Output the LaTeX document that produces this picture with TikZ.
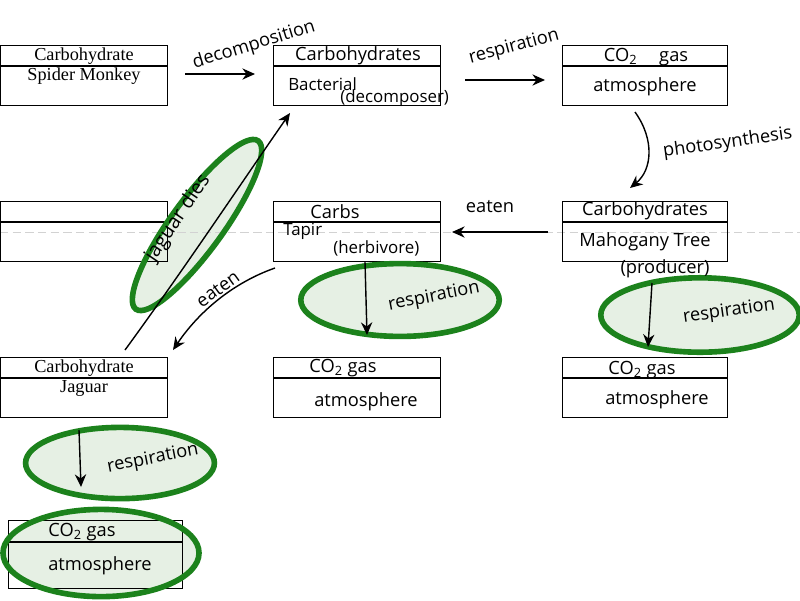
\documentclass[tikz,border=0pt]{standalone}
\usepackage{fontspec}
\setmainfont{Liberation Serif}
\newfontfamily\hand{Open Sans}
\usetikzlibrary{arrows.meta,calc}
\definecolor{ringgreen}{RGB}{28,130,28}
\definecolor{ringfill}{RGB}{230,240,228}
\tikzset{
 box/.style={draw, line width=0.9pt, rectangle, anchor=north west, minimum width=4.175cm, minimum height=1.5cm, inner sep=0},
 ringfillst/.style={fill=ringfill},
 ringline/.style={draw=ringgreen, line width=4pt},
 arr/.style={-{Stealth[length=9pt,width=8pt]}, line width=1pt},
 hw/.style={font=\hand\fontsize{13}{15}\selectfont, inner sep=0},
 hws/.style={font=\hand\fontsize{12}{14}\selectfont, inner sep=0},
 pr/.style={font=\fontsize{13}{15}\selectfont, inner sep=0},
 scan/.style={gray!35, dash pattern=on 6pt off 3pt, line width=0.6pt},
}
\begin{document}
\begin{tikzpicture}[x=0.025cm,y=-0.025cm]
\useasboundingbox (0,0) rectangle (800,600);
% ellipse fills
\fill[ringfillst, shift={(197,225)}, rotate=54] (0,0) ellipse [x radius=2.6cm, y radius=0.65cm];
\fill[ringfillst] (400,300) ellipse [x radius=2.48cm, y radius=0.91cm];
\fill[ringfillst] (700,315) ellipse [x radius=2.48cm, y radius=0.93cm];
\fill[ringfillst] (120,463) ellipse [x radius=2.36cm, y radius=0.89cm];
\fill[ringfillst] (101,553) ellipse [x radius=2.45cm, y radius=1.09cm];
% scan line
\draw[scan] (0,232) -- (800,232);
% boxes
\node[box] (sm) at (0,45) {};
\node[box] (ba) at (273,45) {};
\node[box, minimum width=4.125cm] (co1) at (562,45) {};
\node[box] (em) at (0,201) {};
\node[box] (ta) at (273,201) {};
\node[box, minimum width=4.125cm] (ma) at (562,201) {};
\node[box] (ja) at (0,357) {};
\node[box] (co2) at (273,357) {};
\node[box, minimum width=4.125cm] (co3) at (562,357) {};
\node[box, minimum width=4.35cm, minimum height=1.7cm] (co4) at (8,520) {};
\foreach \b in {sm,ba,co1,em,ta,ma,ja,co2,co3}
  \draw[line width=0.9pt] ($(\b.north west)+(0,21)$) -- ($(\b.north east)+(0,21)$);
\draw[line width=0.9pt] ($(co4.north west)+(0,22)$) -- ($(co4.north east)+(0,22)$);
% ellipse outlines
\draw[ringline, shift={(197,225)}, rotate=54] (0,0) ellipse [x radius=2.6cm, y radius=0.65cm];
\draw[ringline] (400,300) ellipse [x radius=2.48cm, y radius=0.91cm];
\draw[ringline] (700,315) ellipse [x radius=2.48cm, y radius=0.93cm];
\draw[ringline] (120,463) ellipse [x radius=2.36cm, y radius=0.89cm];
\draw[ringline] (101,553) ellipse [x radius=2.45cm, y radius=1.09cm];
% box texts
\node[pr] (t1a) at (84,56) {Carbohydrate};
\node[pr] (t1b) at (84,76) {Spider Monkey};
\node[hw] (t2a) at (358,56) {Carbohydrates};
\node[hws, anchor=west] (t2b) at (288,84) {Bacterial};
\node[hws, anchor=west] (t2c) at (340,98) {(decomposer)};
\node[hw] (t3a) at (646,57) {CO\textsubscript{2}\hspace{1.2em}gas};
\node[hw] (t3b) at (645,87) {atmosphere};
\node[hw] (t5a) at (335,212) {Carbs};
\node[hws, anchor=west] (t5b) at (283,231) {Tapir};
\node[hws, anchor=west] (t5c) at (333,248) {(herbivore)};
\node[hw] (t6a) at (645,211) {Carbohydrates};
\node[hw] (t6b) at (645,242) {Mahogany Tree};
\node[hw] (t6c) at (665,269) {(producer)};
\node[pr] (t7a) at (84,368) {Carbohydrate};
\node[pr] (t7b) at (84,388) {Jaguar};
\node[hw] (t8a) at (343,368) {CO\textsubscript{2} gas};
\node[hw] (t8b) at (366,402) {atmosphere};
\node[hw] (t9a) at (642,370) {CO\textsubscript{2} gas};
\node[hw] (t9b) at (657,400) {atmosphere};
\node[hw] (t10a) at (82,532) {CO\textsubscript{2} gas};
\node[hw] (t10b) at (100,566) {atmosphere};
% connector end points
\coordinate (d1) at (185,74);
\coordinate (d2) at (255,74);
\coordinate (r1) at (465,80);
\coordinate (r2) at (545,80);
\coordinate (p1) at (635,112);
\coordinate (p2) at (630,188);
\coordinate (e1) at (548,232);
\coordinate (e2) at (452,232);
\coordinate (e3) at (275,268);
\coordinate (e4) at (173,350);
\coordinate (j1) at (125,350);
\coordinate (j2) at (290,113);
\coordinate (tr1) at (365,262);
\coordinate (tr2) at (367,335);
\coordinate (mr1) at (652,283);
\coordinate (mr2) at (648,347);
\coordinate (jr1) at (79,430);
\coordinate (jr2) at (81,487);
% connectors
\draw[arr] (d1) -- (d2);
\draw[arr] (r1) -- (r2);
\draw[arr] (p1) .. controls (655,140) and (652,170) .. (p2);
\draw[arr] (e1) -- (e2);
\draw[arr] (e3) .. controls (235,282) and (200,310) .. (e4);
\draw[arr] (j1) .. controls (182,272) and (242,182) .. (j2);
\draw[arr] (tr1) -- (tr2);
\draw[arr] (mr1) -- (mr2);
\draw[arr] (jr1) -- (jr2);
% labels
\node[hw, rotate=17] (l1) at (254,45) {decomposition};
\node[hw, rotate=15] (l2) at (514,47) {respiration};
\node[hw, rotate=8, anchor=west] (l3) at (663,152) {photosynthesis};
\node[hw] (l4) at (490,207) {eaten};
\node[hw, rotate=36] (l5) at (218,289) {eaten};
\node[hw, rotate=56, font=\hand\fontsize{14}{16}\selectfont] (l6) at (178,218) {jaguar dies};
\node[hw, rotate=11] (l7) at (434,297) {respiration};
\node[hw, rotate=8, anchor=west] (l8) at (683,318) {respiration};
\node[hw, rotate=11] (l9) at (153,459) {respiration};
\end{tikzpicture}
\end{document}
